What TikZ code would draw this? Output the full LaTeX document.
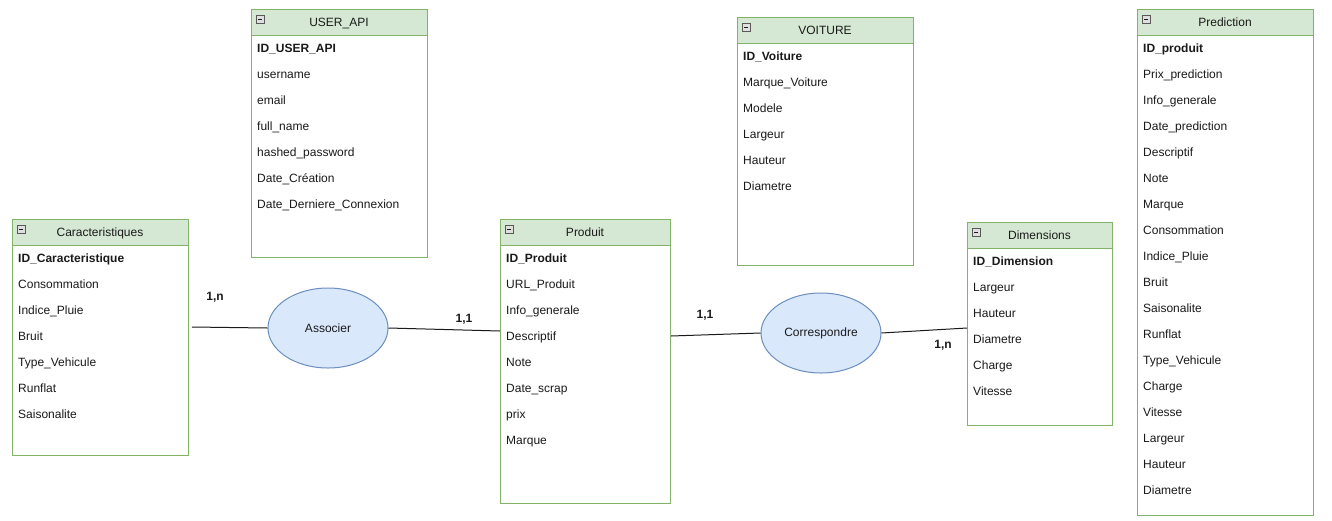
\documentclass[tikz,border=0pt]{standalone}
\usepackage{fontspec}
\setmainfont{Liberation Sans}
\usetikzlibrary{shapes.geometric}

\definecolor{headfill}{HTML}{D5E8D4}
\definecolor{headline}{HTML}{82B366}
\definecolor{relfill}{HTML}{DAE8FC}
\definecolor{relline}{HTML}{6C8EBF}
\definecolor{ink}{HTML}{1A1A1A}

% entity: name, x, y, width, height, title, key, other fields
\newcommand{\erentity}[8]{%
  \node[entity, minimum width=#4pt, minimum height=#5pt] (#1) at (#2,#3) {};
  \draw[head] (#1.north west) rectangle ([shift={(#4,26)}]#1.north west);
  \node[field, anchor=center] (#1-title) at ([shift={(#4/2,14)}]#1.north west) {#6};
  \draw[toggle] ([shift={(5,6)}]#1.north west) rectangle ([shift={(13,14)}]#1.north west);
  \draw[ink, line width=0.8pt] ([shift={(7,10)}]#1.north west) -- ([shift={(11,10)}]#1.north west);
  \node[field, font=\fontsize{12}{14}\selectfont\bfseries] (#1-0) at ([shift={(6,40)}]#1.north west) {#7};
  \foreach \f [count=\i] in {#8}
    \node[field] (#1-\i) at ([shift={(6,{40+26*\i})}]#1.north west) {\f};
}

\begin{document}
\begin{tikzpicture}[x=1pt, y=-1pt]
    \tikzset{every node/.style={font=\fontsize{12}{14}\selectfont, text=ink}}
    \tikzset{entity/.style={draw=headline, fill=white, line width=1pt, anchor=north west, inner sep=0pt}}
    \tikzset{head/.style={draw=headline, fill=headfill, line width=1pt}}
    \tikzset{toggle/.style={draw=gray!70!black, fill=gray!25, line width=0.6pt}}
    \tikzset{field/.style={anchor=west, inner sep=0pt, text height=9pt, text depth=3pt}}
    \tikzset{relation/.style={ellipse, draw=relline, fill=relfill, line width=1pt, minimum width=120pt, minimum height=80pt, inner sep=0pt}}
    \tikzset{card/.style={font=\fontsize{12}{14}\selectfont\bfseries}}
    \tikzset{link/.style={draw=ink, line width=1pt}}

    % page
    \useasboundingbox[fill=white] (0,0) rectangle (1332,520);

    % entities
    \erentity{caract}{12}{219}{176}{236}{Caracteristiques}{ID\_Caracteristique}
      {Consommation, Indice\_Pluie, Bruit, Type\_Vehicule, Runflat, Saisonalite}
    \erentity{userapi}{251}{9}{176}{248}{USER\_API}{ID\_USER\_API}
      {username, email, full\_name, hashed\_password, Date\_Création, Date\_Derniere\_Connexion}
    \erentity{produit}{500}{219}{170}{284}{Produit}{ID\_Produit}
      {URL\_Produit, Info\_generale, Descriptif, Note, Date\_scrap, prix, Marque}
    \erentity{voiture}{737}{17}{176}{248}{VOITURE}{ID\_Voiture}
      {Marque\_Voiture, Modele, Largeur, Hauteur, Diametre}
    \erentity{dims}{967}{222}{145}{203}{Dimensions}{ID\_Dimension}
      {Largeur, Hauteur, Diametre, Charge, Vitesse}
    \erentity{predict}{1137}{9}{176}{506}{Prediction}{ID\_produit}
      {Prix\_prediction, Info\_generale, Date\_prediction, Descriptif, Note, Marque,
       Consommation, Indice\_Pluie, Bruit, Saisonalite, Runflat, Type\_Vehicule,
       Charge, Vitesse, Largeur, Hauteur, Diametre}

    % relations
    \node[relation] (associer) at (328,328) {Associer};
    \node[relation] (corresp) at (821,333) {Correspondre};

    % connectors
    \coordinate (caract link)  at ([shift={(3,108)}]caract.north east);
    \coordinate (produit in)   at ([shift={(0,112)}]produit.north west);
    \coordinate (produit out)  at ([shift={(0,117)}]produit.north east);
    \coordinate (dims link)    at ([shift={(0,106)}]dims.north west);
    \draw[link] (caract link) -- (associer.west);
    \draw[link] (associer.east) -- (produit in);
    \draw[link] (produit out) -- (corresp.west);
    \draw[link] (corresp.east) -- (dims link);

    % cardinalities
    \node[card] (card caract)  at (215,297) {1,n};
    \node[card] (card prod a)  at (464,319) {1,1};
    \node[card] (card prod c)  at (705,315) {1,1};
    \node[card] (card dims)    at (943,345) {1,n};

\end{tikzpicture}
\end{document}
